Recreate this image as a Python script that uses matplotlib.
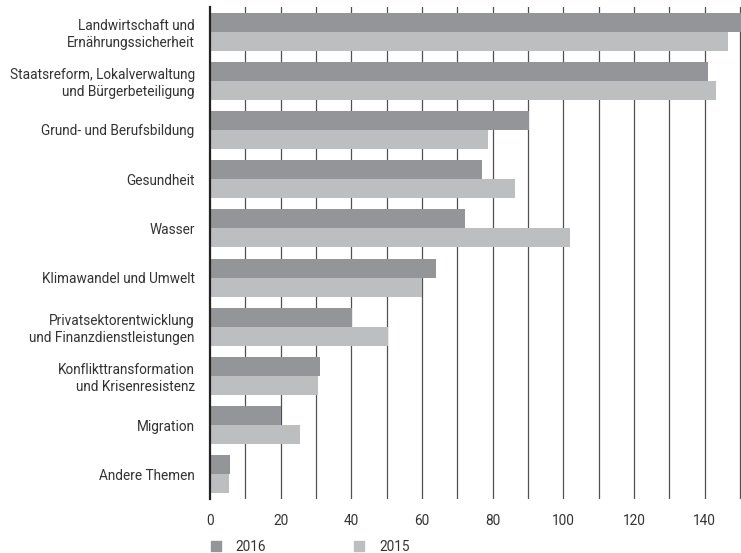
import numpy as np
import matplotlib
matplotlib.use('Agg')
import matplotlib.pyplot as plt
from matplotlib.patches import Patch

plt.rcParams.update({
    'font.family': ['Roboto', 'DejaVu Sans'],
    'text.color': '#333333',
    'xtick.color': '#333333',
    'ytick.color': '#333333',
})

themen = [
    'Landwirtschaft und\nErnährungssicherheit',
    'Staatsreform, Lokalverwaltung\nund Bürgerbeteiligung',
    'Grund- und Berufsbildung',
    'Gesundheit',
    'Wasser',
    'Klimawandel und Umwelt',
    'Privatsektorentwicklung\nund Finanzdienstleistungen',
    'Konflikttransformation\nund Krisenresistenz',
    'Migration',
    'Andere Themen',
]
werte_2016 = [152, 141, 90.2, 77.0, 72.2, 64.0, 40.2, 31.1, 20.1, 5.7]
werte_2015 = [146.5, 143.2, 78.7, 86.3, 101.9, 60.1, 50.3, 30.5, 25.5, 5.4]
ticks_x = [0, 20, 40, 60, 80, 100, 120, 140]

FARBE_2016 = '#939598'
FARBE_2015 = '#bcbec0'
FS = 9.8

fig = plt.figure(figsize=(7.41, 5.53), dpi=100)
ax = fig.add_axes([210 / 741, 54 / 553, 531 / 741, 492 / 553])

y = np.arange(len(themen))
h = 0.385
ax.barh(y - h / 2, werte_2016, height=h, color=FARBE_2016, zorder=3)
ax.barh(y + h / 2, werte_2015, height=h, color=FARBE_2015, zorder=3)

ax.set_xlim(0, 150.3)
ax.set_ylim(len(themen) - 0.5, -0.5)

# senkrechte Linien alle 10 Einheiten
for gx in range(10, 151, 10):
    ax.axvline(gx, color='#505050', linewidth=0.9, zorder=1)

ax.set_yticks(y)
ax.set_yticklabels(themen, fontsize=FS, ha='right', linespacing=1.25)
ax.set_xticks(ticks_x)
ax.set_xticklabels([str(t) for t in ticks_x], fontsize=FS)
ax.tick_params(axis='y', length=0, pad=11)
ax.tick_params(axis='x', length=0, pad=11)

for s in ['top', 'right', 'bottom']:
    ax.spines[s].set_visible(False)
ax.spines['left'].set_color('#222222')
ax.spines['left'].set_linewidth(1.6)
ax.spines['left'].set_zorder(4)

handles = [Patch(color=FARBE_2016, label='2016'),
           Patch(color=FARBE_2015, label='2015')]
fig.legend(handles=handles, loc='lower left', bbox_to_anchor=(211 / 741, -0.001),
           ncol=2, frameon=False, fontsize=FS, handlelength=0.7, handleheight=0.7,
           handletextpad=1.1, columnspacing=6.5, borderpad=0, borderaxespad=0)

fig.savefig('out.png', dpi=100)
